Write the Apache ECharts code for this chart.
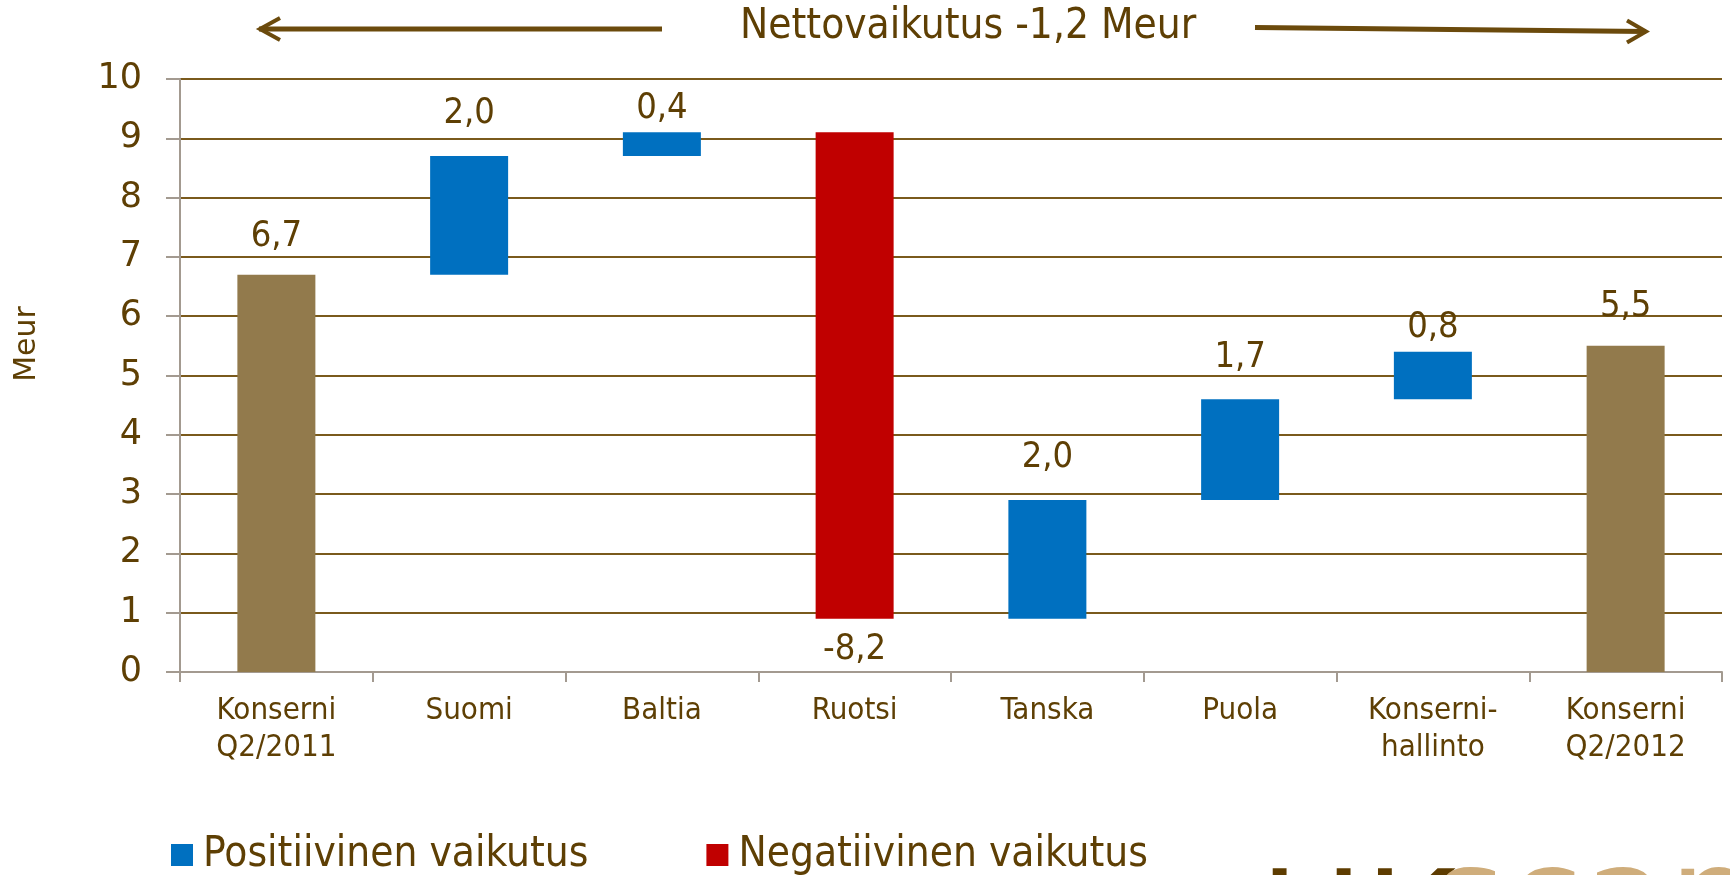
<!DOCTYPE html>
<html>
<head>
<meta charset="utf-8">
<script src="https://cdn.jsdelivr.net/npm/echarts@6/dist/echarts.min.js"></script>
<style>
  html, body { margin: 0; padding: 0; background: #fff; }
  #main { width: 1730px; height: 875px; }
</style>
</head>
<body>
<div id="main"></div>
<script>
// waterfall: start total, changes per country, end total
const categories = ['Konserni\nQ2/2011', 'Suomi', 'Baltia', 'Ruotsi', 'Tanska', 'Puola', 'Konserni-\nhallinto', 'Konserni\nQ2/2012']
const startValue = 6.7
const deltas = [2.0, 0.4, -8.2, 2.0, 1.7, 0.8]
const endValue = 5.5
const yMin = 0
const yMax = 10
const yStep = 1

const TXT = '#5E3F04'
const GRID = '#7A5A1C'
const AXIS = '#A39A90'
const COND = '"DejaVu Sans Condensed", "DejaVu Sans", sans-serif'
const WIDE = '"DejaVu Sans", sans-serif'

const fmt = (v) => v.toFixed(1).replace('.', ',')

// build stacked series (invisible base + visible piece)
var base = [0]
var pos = ['-']
var neg = ['-']
var total = [{ value: startValue, label: { show: true, formatter: fmt(startValue), distance: 20 } }]
var run = startValue
deltas.forEach(function (d) {
  var small = Math.abs(d) < 1
  if (d >= 0) {
    base.push(run)
    pos.push({ value: d, label: { show: true, position: 'top', formatter: fmt(d), distance: small ? 6 : 24 } })
    neg.push('-')
  } else {
    base.push(run + d)
    neg.push({ value: -d, label: { show: true, position: 'bottom', formatter: fmt(d), distance: 13 } })
    pos.push('-')
  }
  total.push('-')
  run += d
})
base.push(0)
pos.push('-')
neg.push('-')
total.push({ value: endValue, label: { show: true, formatter: fmt(endValue), distance: 21 } })

const labelStyle = {
  position: 'top',
  color: TXT,
  fontSize: 36,
  fontFamily: COND,
}

const myChart = echarts.init(document.getElementById('main'))
myChart.setOption({
  animation: false,
  grid: { left: 180, right: 8, top: 79, bottom: 203 },
  legend: {
    data: ['Positiivinen vaikutus', 'Negatiivinen vaikutus'],
    left: 171,
    top: 834,
    padding: 0,
    icon: 'rect',
    itemWidth: 22,
    itemHeight: 22,
    itemGap: 118,
    textStyle: { color: TXT, fontSize: 42, fontFamily: COND, padding: [0, 0, 0, 5] },
  },
  xAxis: {
    type: 'category',
    data: categories,
    axisLine: { lineStyle: { color: AXIS, width: 2 } },
    axisTick: { show: true, length: 10, lineStyle: { color: AXIS, width: 2 } },
    axisLabel: { interval: 0, color: TXT, fontSize: 31, lineHeight: 37, fontFamily: COND, margin: 20 },
  },
  yAxis: {
    type: 'value',
    min: yMin,
    max: yMax,
    interval: yStep,
    axisLine: { show: true, lineStyle: { color: AXIS, width: 2 } },
    axisTick: { show: true, length: 14, lineStyle: { color: AXIS, width: 2 } },
    axisLabel: { color: TXT, fontSize: 35, fontFamily: WIDE, margin: 38 },
    splitLine: { lineStyle: { color: GRID, width: 2 } },
  },
  series: [
    {
      name: 'base',
      type: 'bar',
      stack: 'w',
      barWidth: 78,
      silent: true,
      itemStyle: { color: 'transparent' },
      data: base,
    },
    {
      name: 'Positiivinen vaikutus',
      type: 'bar',
      stack: 'w',
      barWidth: 78,
      itemStyle: { color: '#0070C0' },
      label: labelStyle,
      data: pos,
    },
    {
      name: 'Negatiivinen vaikutus',
      type: 'bar',
      stack: 'w',
      barWidth: 78,
      itemStyle: { color: '#C00000' },
      label: labelStyle,
      data: neg,
    },
    {
      name: 'Konserni',
      type: 'bar',
      stack: 'w',
      barWidth: 78,
      itemStyle: { color: '#927A4C' },
      label: labelStyle,
      data: total,
    },
  ],
  graphic: [
    // title between the arrows
    {
      type: 'text',
      x: 740,
      y: 27,
      style: { text: 'Nettovaikutus -1,2 Meur', fill: TXT, font: '42px ' + COND, textAlign: 'left', textVerticalAlign: 'middle' },
    },
    {
      type: 'polyline',
      shape: { points: [[259, 29], [662, 29]] },
      style: { stroke: '#6B4A0C', lineWidth: 5, fill: null },
    },
    {
      type: 'polyline',
      shape: { points: [[280, 18], [260, 29], [280, 40]] },
      style: { stroke: '#6B4A0C', lineWidth: 4, fill: null },
    },
    {
      type: 'polyline',
      shape: { points: [[1255, 27.5], [1646, 31.5]] },
      style: { stroke: '#6B4A0C', lineWidth: 5, fill: null },
    },
    {
      type: 'polyline',
      shape: { points: [[1627, 20.5], [1646, 31.5], [1627, 42.5]] },
      style: { stroke: '#6B4A0C', lineWidth: 4, fill: null },
    },
    // y axis name
    {
      type: 'text',
      x: 27,
      y: 344,
      rotation: Math.PI / 2,
      style: { text: 'Meur', fill: TXT, font: '30px ' + WIDE, textAlign: 'center', textVerticalAlign: 'middle' },
    },
    // logo, cut off at the bottom
    {
      type: 'text',
      x: 1259,
      y: 935,
      style: { text: 'HK', fill: '#5E3C00', font: '140px "DejaVu Sans"', textAlign: 'left', textVerticalAlign: 'middle' },
    },
    {
      type: 'text',
      x: 1433,
      y: 910,
      style: { text: 'scan', fill: '#CFAD7B', font: '140px "DejaVu Sans"', textAlign: 'left', textVerticalAlign: 'middle' },
    },
  ],
})
</script>
</body>
</html>
